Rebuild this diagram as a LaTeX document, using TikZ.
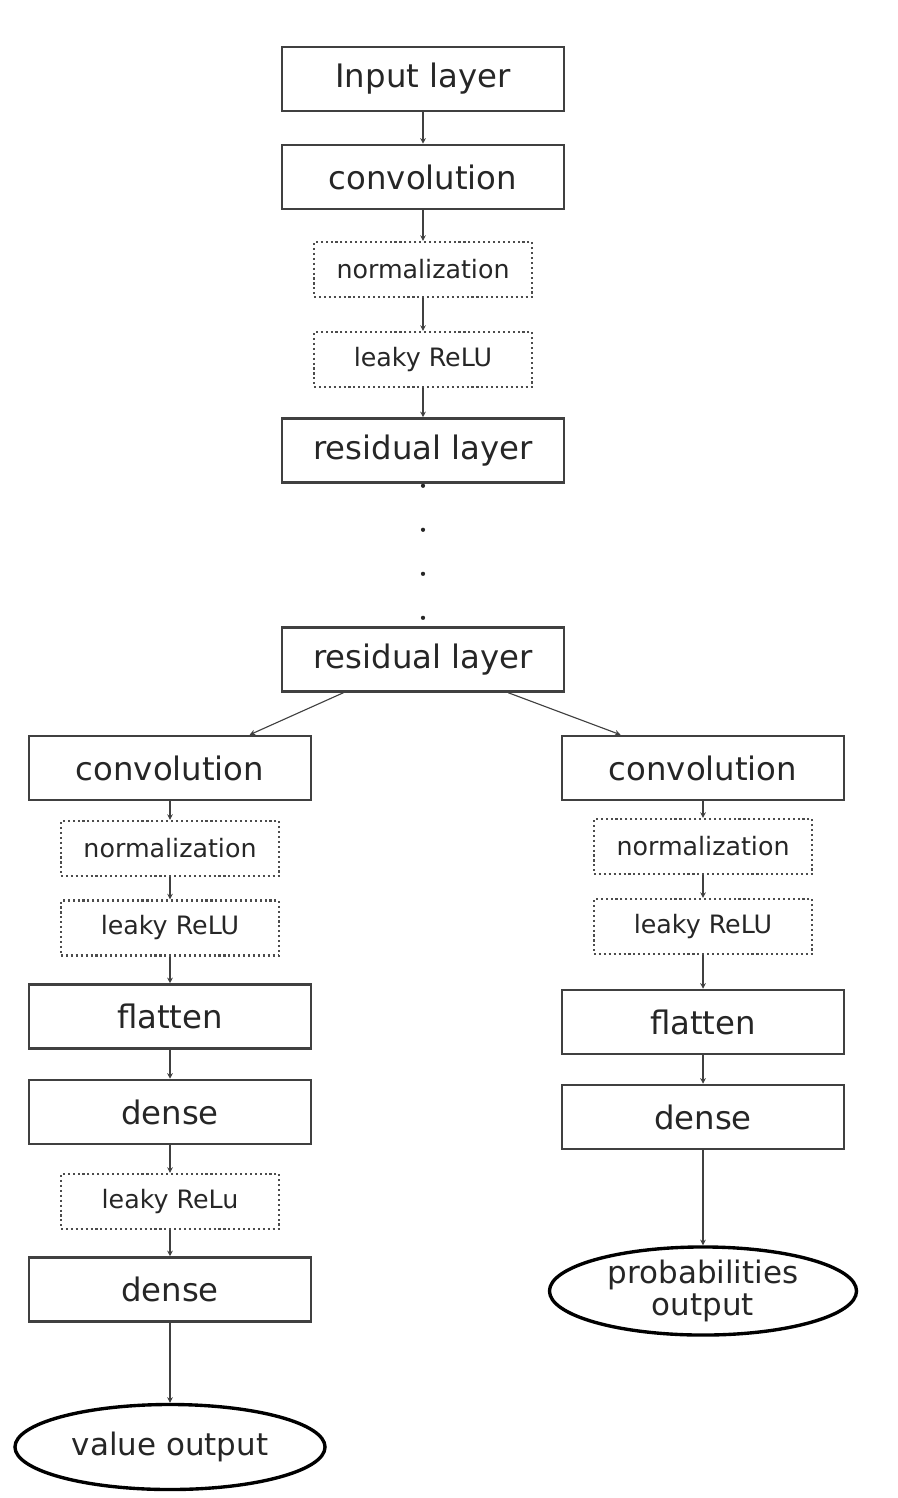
\documentclass[tikz,border=0pt]{standalone}
\usepackage{fontspec}
\setmainfont{DejaVu Sans}
\usetikzlibrary{shapes.geometric,arrows.meta,calc}
\begin{document}
\begin{tikzpicture}[x=0.025cm,y=-0.025cm,
  layer/.style={draw=black!75,line width=1.8pt,minimum width=7.05cm,minimum height=1.6cm,font=\fontsize{23}{27}\selectfont,text=black!85},
  sublayer/.style={draw=black!70,line width=1.5pt,dotted,minimum width=5.45cm,minimum height=1.375cm,font=\fontsize{18}{21}\selectfont,text=black!85},
  outlayer/.style={ellipse,draw=black,line width=2.4pt,inner sep=0pt,font=\fontsize{22}{23}\selectfont,text=black!85,align=center},
  link/.style={draw=black!75,line width=0.8pt,-{Stealth[length=4pt,width=4pt]}}]
\useasboundingbox (0,0) rectangle (898,1498);
% trunk
\node[layer] (inp) at (423,79) {Input layer};
\node[layer] (conv) at (423,177) {convolution};
\node[sublayer] (norm) at (423,269.5) {normalization};
\node[sublayer] (relu) at (423,359.5) {leaky ReLU};
\node[layer] (res1) at (423,450.5) {residual layer};
\node[layer] (res2) at (423,659.5) {residual layer};
% value head
\node[layer] (lconv) at (170,768) {convolution};
\node[sublayer] (lnorm) at (170,848.5) {normalization};
\node[sublayer] (lrelu) at (170,928) {leaky ReLU};
\node[layer] (lflat) at (170,1016.5) {flatten};
\node[layer] (ldense1) at (170,1112) {dense};
\node[sublayer] (lrelu2) at (170,1201.5) {leaky ReLu};
\node[layer] (ldense2) at (170,1289.5) {dense};
\node[outlayer,minimum width=7.75cm,minimum height=2.125cm] (value) at (170,1447) {value output};
% policy head
\node[layer] (rconv) at (703,768) {convolution};
\node[sublayer] (rnorm) at (703,846.5) {normalization};
\node[sublayer] (rrelu) at (703,926.5) {leaky ReLU};
\node[layer] (rflat) at (703,1022) {flatten};
\node[layer] (rdense) at (703,1117) {dense};
\node[outlayer,minimum width=7.675cm,minimum height=2.15cm] (prob) at (703,1291) {probabilities\\output};
% connections
\draw[link] (inp) -- (conv);
\draw[link] (conv) -- (norm);
\draw[link] (norm) -- (relu);
\draw[link] (relu) -- (res1);
\draw[black!85,line width=3pt,line cap=round,dash pattern=on 0pt off 31.3pt,shorten <=0.05cm] (res1.south) -- (res2.north);
\draw[link] ($(res2.south west)!0.22!(res2.south east)$) -- ($(lconv.north west)!0.78!(lconv.north east)$);
\draw[link] ($(res2.south west)!0.80!(res2.south east)$) -- ($(rconv.north west)!0.21!(rconv.north east)$);
\draw[link] (lconv) -- (lnorm);
\draw[link] (lnorm) -- (lrelu);
\draw[link] (lrelu) -- (lflat);
\draw[link] (lflat) -- (ldense1);
\draw[link] (ldense1) -- (lrelu2);
\draw[link] (lrelu2) -- (ldense2);
\draw[link] (ldense2) -- (value);
\draw[link] (rconv) -- (rnorm);
\draw[link] (rnorm) -- (rrelu);
\draw[link] (rrelu) -- (rflat);
\draw[link] (rflat) -- (rdense);
\draw[link] (rdense) -- (prob);
\end{tikzpicture}
\end{document}
